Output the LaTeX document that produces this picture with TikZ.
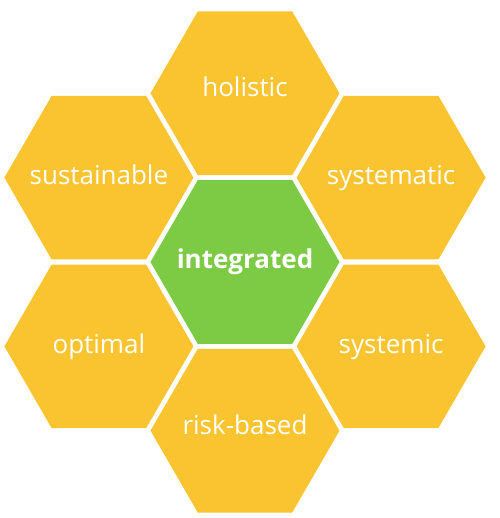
\documentclass[tikz,border=0pt]{standalone}
\usepackage{fontspec}
\setmainfont{Open Sans}
\usepackage{xcolor}
\usepackage{tikz}

\definecolor{honey}{RGB}{249,196,48}
\definecolor{leaf}{RGB}{125,203,69}

\begin{document}
\begin{tikzpicture}[
    x=1pt, y=1pt,
    word/.style={inner sep=0pt, anchor=base, text=white, font=\fontsize{26}{30}\selectfont}
]
\useasboundingbox (-245,-256) rectangle (254,262);

% centre cell
\fill[leaf] (0:94.5) \foreach \a in {60,120,...,300} {-- (\a:94.5)} -- cycle;
\node[word, font=\fontsize{26}{30}\selectfont\bfseries] (integrated) at (0,-7) {integrated};

% ring of cells
\foreach \name/\ang/\txt/\dy in {holistic/90/holistic/3.5, systematic/30/systematic/6.5,
    systemic/-30/systemic/7, riskbased/-90/risk-based/3.5,
    optimal/-150/optimal/7, sustainable/150/sustainable/7} {
  \begin{scope}[shift={(\ang:168.7)}]
    \fill[honey] (0:94.5) \foreach \a in {60,120,...,300} {-- (\a:94.5)} -- cycle;
    \node[word] (\name) at (0,-\dy) {\txt};
  \end{scope}
}

\end{tikzpicture}
\end{document}
